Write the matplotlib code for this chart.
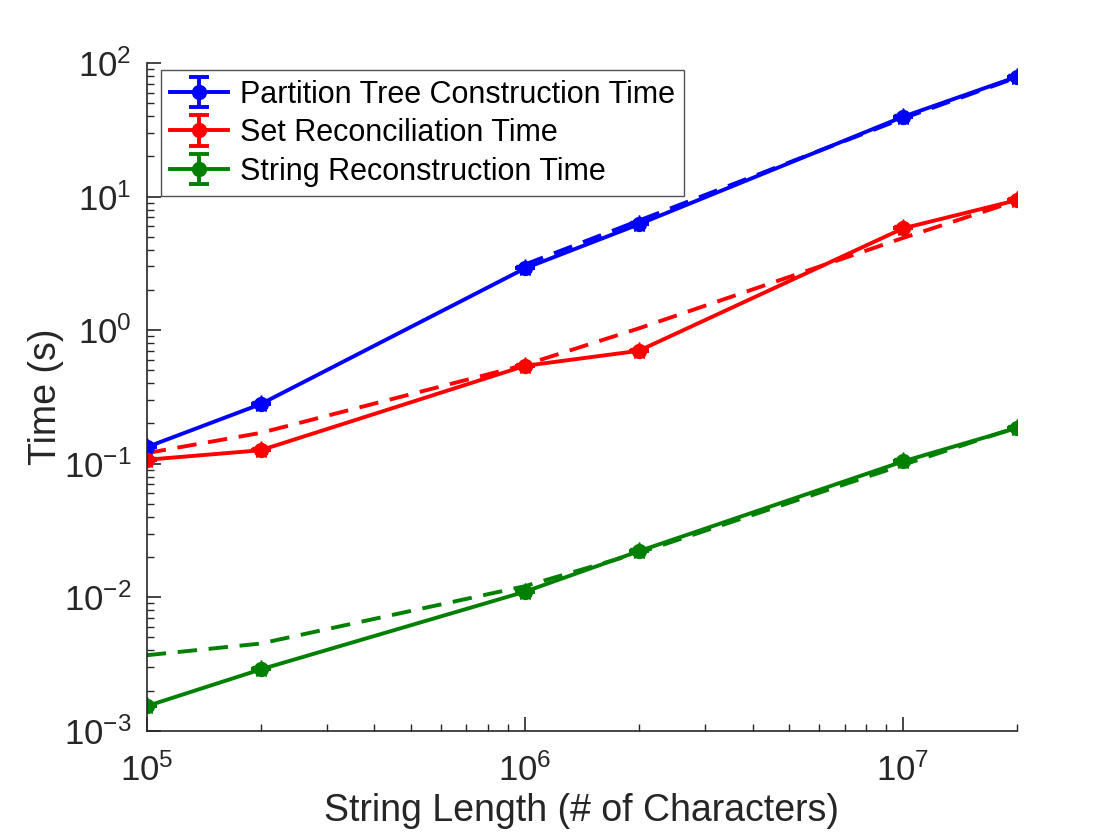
import matplotlib
matplotlib.use("Agg")
import matplotlib.pyplot as plt
from matplotlib.ticker import LogLocator, NullFormatter
import numpy as np

# measured points (string length vs seconds)
lengths = [1e5, 2e5, 1e6, 2e6, 1e7, 2e7]
tree_time = [0.133, 0.279, 2.90, 6.2, 39.6, 78.9]
recon_time = [0.107, 0.126, 0.54, 0.70, 5.78, 9.4]
string_time = [0.00153, 0.00288, 0.0110, 0.0221, 0.104, 0.185]

# dashed fit curves
tree_fit_x = [1e6, 2e6, 1e7, 2e7]
tree_fit = [3.1, 6.6, 38.5, 78.0]
recon_fit = [0.12, 0.17, 0.55, 1.03, 4.9, 9.3]
string_fit = [0.00368, 0.0045, 0.0121, 0.0215, 0.098, 0.187]

labels = ["Partition Tree Construction Time",
          "Set Reconciliation Time",
          "String Reconstruction Time"]
colors = ["#0000ff", "#ff0000", "#008000"]

plt.rcParams['font.family'] = ['Liberation Sans', 'DejaVu Sans']
plt.rcParams['mathtext.fontset'] = 'custom'
plt.rcParams['mathtext.rm'] = 'Liberation Sans'
plt.rcParams['mathtext.it'] = 'Liberation Sans'

fig = plt.figure(figsize=(11.2, 8.4), dpi=100)
ax = fig.add_axes([0.131, 0.130, 0.777, 0.795])

for ys, lab, c in zip([tree_time, recon_time, string_time], labels, colors):
    ax.errorbar(lengths, ys, yerr=np.zeros(len(ys)), color=c, lw=2.8,
                marker='o', ms=10, mfc=c, mec=c, capsize=7, capthick=2.8,
                elinewidth=2.8, label=lab)
    ax.plot(lengths, ys, ls='none', marker='*', ms=13, color=c)

ax.plot(tree_fit_x, tree_fit, color=colors[0], lw=2.8, dashes=(5, 3))
ax.plot(lengths, recon_fit, color=colors[1], lw=2.8, dashes=(5, 3))
ax.plot(lengths, string_fit, color=colors[2], lw=2.8, dashes=(5, 3))

ax.set_xscale('log')
ax.set_yscale('log')
ax.set_xlim(1e5, 2e7)
ax.set_ylim(1e-3, 1e2)
ax.xaxis.set_major_locator(LogLocator(base=10, numticks=10))
ax.yaxis.set_major_locator(LogLocator(base=10, numticks=10))
ax.xaxis.set_minor_locator(LogLocator(base=10, subs=np.arange(2, 10), numticks=20))
ax.yaxis.set_minor_locator(LogLocator(base=10, subs=np.arange(2, 10), numticks=20))
ax.xaxis.set_minor_formatter(NullFormatter())
ax.yaxis.set_minor_formatter(NullFormatter())

dark = '#262626'
for side in ['top', 'right']:
    ax.spines[side].set_visible(False)
for side in ['left', 'bottom']:
    ax.spines[side].set_color(dark)
    ax.spines[side].set_linewidth(1.2)
ax.tick_params(which='both', direction='in', colors=dark, labelsize=25,
               top=False, right=False)
ax.tick_params(which='major', length=10, width=1.2)
ax.tick_params(which='minor', length=5, width=1.0)
ax.tick_params(axis='x', which='major', pad=16)
ax.tick_params(axis='y', which='major', pad=11)

ax.set_xlabel("String Length (# of Characters)", fontsize=27, color=dark,
              labelpad=4)
ax.set_ylabel("Time (s)", fontsize=27, color=dark, labelpad=0)

leg = ax.legend(loc='upper left', bbox_to_anchor=(0.016, 0.989), fontsize=22,
                frameon=True, fancybox=False, handlelength=1.9,
                handletextpad=0.4, borderpad=0.3, labelspacing=0.28,
                borderaxespad=0)
leg.get_frame().set_edgecolor('#262626')
leg.get_frame().set_linewidth(1.0)

fig.savefig("out.png", dpi=100)
